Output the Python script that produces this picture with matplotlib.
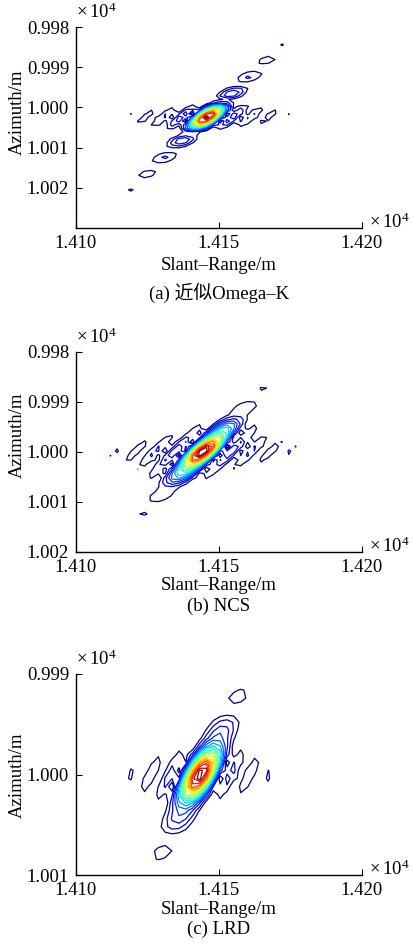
import numpy as np
import matplotlib
matplotlib.use("Agg")
import matplotlib.pyplot as plt
from matplotlib.ticker import FormatStrFormatter

plt.rcParams["font.family"] = ["Liberation Serif", "Noto Sans CJK SC", "DejaVu Sans"]
plt.rcParams["mathtext.fontset"] = "custom"
plt.rcParams["mathtext.rm"] = "Liberation Serif"

# ----------------------------
# Data (metres)
# ----------------------------
CAPTIONS = ["(a) 近似Omega–K", "(b) NCS", "(c) LRD"]
X_TICKS = [14100, 14150, 14200]
Y_TICKS = [[9980, 9990, 10000, 10010, 10020],
           [9980, 9990, 10000, 10010, 10020],
           [9990, 10000, 10010]]
Y_LIMS = [(9980, 10030), (9980, 10020), (9990, 10010)]

# point-target peak position
PEAK_X = [14145.8, 14144.4, 14143.4]
PEAK_Y = [10002.4, 9999.9, 10000.0]
# azimuth sidelobe direction (dx, dy) in metres
AZ_DIR = [(5.9, -4.0), (36.0, -21.6), (21.0, -12.3)]
# resolution (null spacing) in range / along azimuth direction, metres
RANGE_RES = [6.2, 6.8, 7.0]
AZ_RES = [7.3, 7.0, 6.2]
# residual quadratic phase at band edge (rad) and amplitude weighting
AZ_PHASE = [0.0, 2.1, 1.2]
AZ_WEIGHT = [1.0, 0.72, 0.75]
RANGE_WEIGHT = [1.0, 1.0, 0.85]
# image sampling of the simulated scene (x, y), metres
GRID_STEP = [(2.4, 0.9), (2.4, 0.9), (2.4, 0.8)]

LEVELS = np.arange(0.065, 1.0, 0.05)


def response(u, phase, weight):
    # 1-D impulse response magnitude, looked up from a table
    f = np.linspace(-0.5, 0.5, 257)
    w = weight + (1 - weight) * np.cos(2 * np.pi * f)
    u_tab = np.linspace(-80, 80, 8001)
    spec = w * np.exp(1j * phase * (2 * f) ** 2)
    tab = np.abs(np.exp(2j * np.pi * np.outer(u_tab, f)) @ spec) / w.sum()
    return np.interp(u, u_tab, tab)


def field(X, Y, i):
    ax_, ay_ = AZ_DIR[i]
    n = np.hypot(ax_, ay_)
    ax_, ay_ = ax_ / n, ay_ / n
    dx = X - PEAK_X[i]
    dy = Y - PEAK_Y[i]
    q = dy / ay_
    p = dx - q * ax_
    Z = response(p / RANGE_RES[i], 0.0, RANGE_WEIGHT[i]) * \
        response(q / AZ_RES[i], AZ_PHASE[i], AZ_WEIGHT[i])
    return Z / Z.max()


# ----------------------------
# Layout in pixels (414 x 950)
# ----------------------------
W, H = 414, 950
AX_LEFT, AX_RIGHT = 76, 362
AX_TOP = [27, 352, 674]
AX_BOTTOM = [228, 552, 875]
YLABEL_Y = [112, 435, 775]
XLABEL_Y = [265, 586, 910]
CAPTION_Y = [293, 606, 929]

fig = plt.figure(figsize=(W / 100, H / 100), dpi=100)

for i in range(3):
    y0, y1 = Y_LIMS[i]
    sx, sy = GRID_STEP[i]
    xs = np.arange(14100, 14200.01, sx)
    ys = np.arange(y0, y1 + 0.01, sy)
    X, Y = np.meshgrid(xs, ys)
    Z = field(X, Y, i)

    ax = fig.add_axes([AX_LEFT / W, 1 - AX_BOTTOM[i] / H,
                       (AX_RIGHT - AX_LEFT) / W, (AX_BOTTOM[i] - AX_TOP[i]) / H])
    ax.contour(X / 1e4, Y / 1e4, Z, levels=LEVELS, cmap="jet",
               vmin=LEVELS[0], vmax=LEVELS[-1], linewidths=0.9)

    ax.set_xlim(1.41, 1.42)
    ax.set_ylim(y1 / 1e4, y0 / 1e4)
    ax.set_xticks(np.array(X_TICKS) / 1e4)
    ax.set_yticks(np.array(Y_TICKS[i]) / 1e4)
    ax.xaxis.set_major_formatter(FormatStrFormatter("%.3f"))
    ax.yaxis.set_major_formatter(FormatStrFormatter("%.3f"))
    for s in ["top", "right"]:
        ax.spines[s].set_visible(False)
    for s in ["left", "bottom"]:
        ax.spines[s].set_linewidth(1.0)
    ax.tick_params(direction="in", length=4, labelsize=13.5, pad=5)

    # offset labels
    ax.text(0.0, 1.025, r"$\mathregular{\times\,10^{4}}$", transform=ax.transAxes,
            fontsize=13.5, ha="left", va="bottom")
    ax.text(1.025, -0.02, r"$\mathregular{\times\,10^{4}}$", transform=ax.transAxes,
            fontsize=13.5, ha="left", va="bottom")

    fig.text(17 / W, 1 - YLABEL_Y[i] / H, "Azimuth/m", rotation=90,
             fontsize=13.5, ha="center", va="center")
    fig.text(219 / W, 1 - XLABEL_Y[i] / H, "Slant–Range/m",
             fontsize=13.5, ha="center", va="center")
    fig.text(219 / W, 1 - CAPTION_Y[i] / H, CAPTIONS[i],
             fontsize=13.5, ha="center", va="center")

fig.savefig("out.png", dpi=100)
